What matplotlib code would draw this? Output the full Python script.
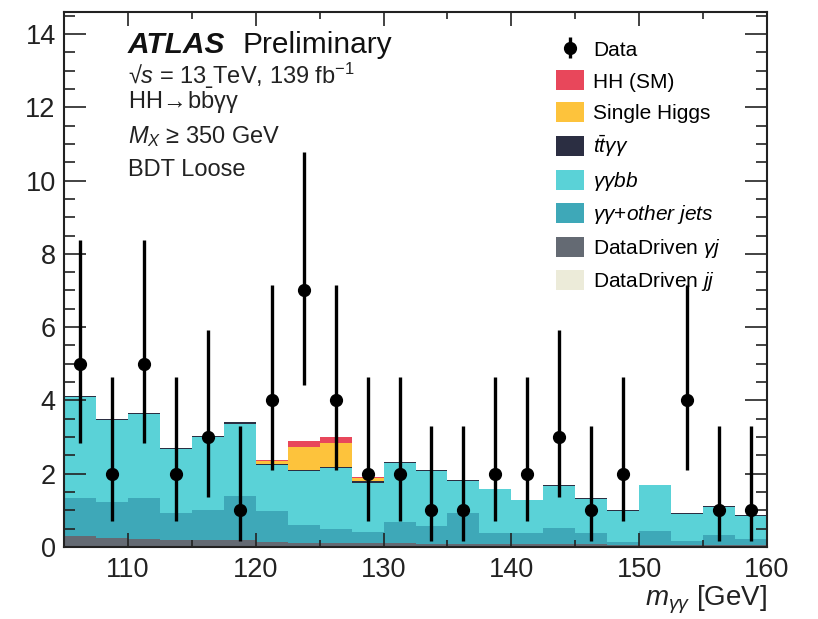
import numpy as np
import matplotlib
matplotlib.use("Agg")
import matplotlib.pyplot as plt
from matplotlib.patches import Patch
from matplotlib.ticker import MultipleLocator

plt.rcParams['font.family'] = ['Liberation Sans', 'DejaVu Sans']
plt.rcParams['mathtext.fontset'] = 'custom'
plt.rcParams['mathtext.rm'] = 'Liberation Sans'
plt.rcParams['mathtext.it'] = 'Liberation Sans:italic'
plt.rcParams['mathtext.bf'] = 'Liberation Sans:bold'

# m_gg binning: 22 bins of 2.5 GeV between 105 and 160 GeV
edges = np.linspace(105.0, 160.0, 23)

# Observed events per bin and asymmetric Poisson uncertainties
data = [5, 2, 5, 2, 3, 1, 4, 7, 4, 2, 2, 1, 1, 2, 2, 3, 1, 2, 0, 4, 1, 1]
err_lo = [2.16, 1.29, 2.16, 1.29, 1.63, 0.83, 1.91, 2.58, 1.91, 1.29, 1.29,
          0.83, 0.83, 1.29, 1.29, 1.63, 0.83, 1.29, 0.00, 1.91, 0.83, 0.83]
err_hi = [3.38, 2.64, 3.38, 2.64, 2.92, 2.30, 3.16, 3.77, 3.16, 2.64, 2.64,
          2.30, 2.30, 2.64, 2.64, 2.92, 2.30, 2.64, 1.84, 3.16, 2.30, 2.30]

# Background and signal expectations per bin (stack order: bottom to top)
dd_jj = [0.0] * 22
dd_gj = [0.29, 0.25, 0.22, 0.20, 0.20, 0.19, 0.14, 0.12, 0.12, 0.10, 0.10,
         0.09, 0.09, 0.08, 0.08, 0.07, 0.07, 0.06, 0.06, 0.05, 0.05, 0.05]
gg_other = [1.04, 0.97, 1.13, 0.74, 0.82, 1.20, 0.83, 0.48, 0.36, 0.32, 0.59,
            0.49, 0.84, 0.31, 0.29, 0.44, 0.32, 0.07, 0.38, 0.12, 0.28, 0.16]
gg_bb = [2.77, 2.25, 2.27, 1.74, 1.98, 1.98, 1.27, 1.47, 1.67, 1.34, 1.60,
         1.49, 0.88, 1.18, 0.90, 1.15, 0.92, 0.85, 1.24, 0.74, 0.76, 0.63]
ttgg = [0.03, 0.03, 0.03, 0.03, 0.03, 0.03, 0.03, 0.04, 0.03, 0.03, 0.02,
        0.02, 0.02, 0.02, 0.02, 0.02, 0.02, 0.02, 0.02, 0.02, 0.02, 0.02]
single_h = [0.0, 0.0, 0.0, 0.0, 0.0, 0.0, 0.09, 0.63, 0.67, 0.10, 0.0,
            0.0, 0.0, 0.0, 0.0, 0.0, 0.0, 0.0, 0.0, 0.0, 0.0, 0.0]
hh_sm = [0.0, 0.0, 0.0, 0.0, 0.0, 0.0, 0.01, 0.14, 0.16, 0.01, 0.0,
         0.0, 0.0, 0.0, 0.0, 0.0, 0.0, 0.0, 0.0, 0.0, 0.0, 0.0]

components = [
    (dd_jj, "#ecebd9", "DataDriven $jj$"),
    (dd_gj, "#646a73", r"DataDriven $\gamma j$"),
    (gg_other, "#3ea8b8", r"$\gamma\gamma$+$other\ jets$"),
    (gg_bb, "#5ad2d7", r"$\gamma\gamma bb$"),
    (ttgg, "#2b2e42", r"$t\bar{t}\gamma\gamma$"),
    (single_h, "#fdc33c", "Single Higgs"),
    (hh_sm, "#e8475b", "HH (SM)"),
]

fig = plt.figure(figsize=(8.18, 6.19), dpi=100)
ax = fig.add_axes([64 / 818, 1 - 547 / 619, 703 / 818, 535 / 619])

bottom = np.zeros(len(edges) - 1)
for vals, color, _ in components:
    v = np.asarray(vals, dtype=float)
    ax.stairs(bottom + v, edges, baseline=bottom.copy(), fill=True,
              color=color, linewidth=0, zorder=1)
    bottom = bottom + v

centers = 0.5 * (edges[:-1] + edges[1:])
d = np.asarray(data, dtype=float)
shown = d > 0
eb = ax.errorbar(centers[shown], d[shown],
                 yerr=[np.asarray(err_lo)[shown], np.asarray(err_hi)[shown]],
                 fmt="o", color="black", markersize=8.5, elinewidth=2.4,
                 capsize=0, zorder=5)

ax.set_xlim(105, 160)
ax.set_ylim(0, 14.6)
ax.xaxis.set_major_locator(MultipleLocator(10))
ax.xaxis.set_minor_locator(MultipleLocator(5))
ax.yaxis.set_major_locator(MultipleLocator(2))
ax.yaxis.set_minor_locator(MultipleLocator(0.5))
ax.tick_params(axis="both", which="both", direction="in", top=True,
               right=True, width=1.2, colors="#222222", labelcolor="#222222")
ax.tick_params(axis="x", which="major", length=10, labelsize=19.5, pad=7)
ax.tick_params(axis="x", which="minor", length=5)
ax.tick_params(axis="y", which="major", length=16, labelsize=19.5, pad=6)
ax.tick_params(axis="y", which="minor", length=8)
for s in ax.spines.values():
    s.set_linewidth(1.5)
    s.set_color("#222222")

ax.set_xlabel(r"$m_{\gamma\gamma}$ [GeV]", fontsize=20, color="#222222",
              ha="right", va="top")
ax.xaxis.set_label_coords(1.0, -0.068)

# Labels
tx = (128 - 64) / 703
ax.text(tx, 0.923, "ATLAS", transform=ax.transAxes, fontsize=21.5,
        fontweight="bold", fontstyle="italic", va="baseline", ha="left",
        color="#111111")
ax.text((242 - 64) / 703, 0.923, "Preliminary", transform=ax.transAxes,
        fontsize=21.5, va="baseline", ha="left", color="#111111")
ax.text(tx, 0.866, r"√$s$ = 13 TeV, 139 fb$^{-1}$", transform=ax.transAxes,
        fontsize=17, va="baseline", ha="left", color="#222222")
ax.text(tx, 0.818, r"HH$\!\rightarrow\!$b$\bar{\mathrm{b}}$γγ",
        transform=ax.transAxes, fontsize=17, va="baseline", ha="left",
        color="#222222")
ax.text(tx, 0.755, r"$M_{X}$ ≥ 350 GeV", transform=ax.transAxes,
        fontsize=17, va="baseline", ha="left", color="#222222")
ax.text(tx, 0.693, "BDT Loose", transform=ax.transAxes,
        fontsize=17, va="baseline", ha="left", color="#222222")

handles = [eb] + [Patch(facecolor=c, edgecolor="none") for _, c, _ in components[::-1]]
labels = ["Data"] + [lab for _, _, lab in components[::-1]]
ax.legend(handles, labels, loc="upper left",
          bbox_to_anchor=((556 - 64) / 703, 1 - (39 - 12) / 535),
          frameon=False, fontsize=15, handlelength=1.33, handleheight=1.1,
          handletextpad=0.45, labelspacing=0.5, borderpad=0, borderaxespad=0)

fig.savefig("out.png", dpi=100)
